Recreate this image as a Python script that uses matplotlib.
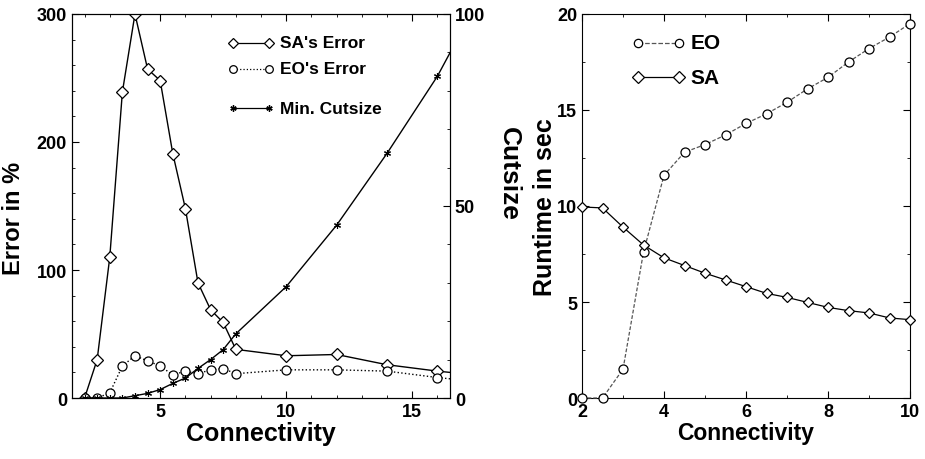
import matplotlib
matplotlib.use('Agg')
import matplotlib.pyplot as plt
from matplotlib.ticker import MultipleLocator

plt.rcParams['font.family'] = ['Liberation Sans Narrow', 'Liberation Sans', 'DejaVu Sans']
plt.rcParams['font.weight'] = 'bold'

# left panel: error and cutsize vs connectivity
conn = [2, 2.5, 3, 3.5, 4, 4.5, 5, 5.5, 6, 6.5, 7, 7.5, 8, 10, 12, 14, 16, 17]
sa_err = [0, 30, 110, 239, 300, 257, 248, 191, 148, 90, 69, 59, 38, 33, 34, 26, 21, 19]
eo_err = [0, 0, 4, 25, 33, 29, 25, 18, 21, 19, 22, 23, 19, 22, 22, 21, 16, 14]
cutsize = [0, 0, 0, 0, 0.6, 1.2, 2.2, 3.8, 5.2, 7.7, 10, 12.6, 16.7, 29, 45, 63.7, 83.8, 96]

# right panel: runtime vs connectivity
conn_rt = [2, 2.5, 3, 3.5, 4, 4.5, 5, 5.5, 6, 6.5, 7, 7.5, 8, 8.5, 9, 9.5, 10]
eo_rt = [0, 0, 1.5, 7.6, 11.6, 12.8, 13.2, 13.7, 14.3, 14.8, 15.4, 16.1, 16.7, 17.5, 18.2, 18.8, 19.5]
sa_rt = [9.95, 9.9, 8.9, 7.97, 7.3, 6.9, 6.5, 6.15, 5.8, 5.45, 5.24, 4.98, 4.72, 4.55, 4.43, 4.17, 4.08]

fig = plt.figure(figsize=(9.25, 4.6), dpi=100)
ax1 = fig.add_axes([0.0778, 0.1326, 0.4087, 0.8348])
ax2 = ax1.twinx()
ax3 = fig.add_axes([0.6292, 0.1326, 0.3546, 0.8348])

mk = dict(markerfacecolor='white', markeredgecolor='black', markeredgewidth=0.9)

ax1.plot(conn, sa_err, '-', color='black', lw=1.0, marker='D', ms=6, **mk)
ax1.plot(conn, eo_err, ':', color='black', lw=1.0, marker='o', ms=6.5, **mk)
ax2.plot(conn, cutsize, '-', color='black', lw=1.0, marker=(6, 2, 0), ms=5, markeredgewidth=0.8)

ax1.set_xlim(1.5, 16.5)
ax1.set_ylim(0, 300)
ax2.set_ylim(0, 100)
ax1.xaxis.set_major_locator(MultipleLocator(5))
ax1.xaxis.set_minor_locator(MultipleLocator(1))
ax1.yaxis.set_major_locator(MultipleLocator(100))
ax1.yaxis.set_minor_locator(MultipleLocator(20))
ax2.yaxis.set_major_locator(MultipleLocator(50))
ax2.yaxis.set_minor_locator(MultipleLocator(10))

ax1.set_xlabel('Connectivity', fontsize=18, fontweight='bold', labelpad=1)
ax1.set_ylabel('Error in %', fontsize=17, fontweight='bold')
ax1.yaxis.set_label_coords(-0.125, 0.47)
ax2.set_ylabel('Cutsize', fontsize=19, fontweight='bold', rotation=270, va='center')
ax2.yaxis.set_label_coords(1.155, 0.585)

# legend drawn by hand, to keep the uneven spacing
lx = [0.425, 0.52]
for yy, style, m, lab in [(0.925, '-', 'D', "SA's Error"), (0.857, ':', 'o', "EO's Error")]:
    ax1.plot(lx, [yy, yy], style, color='black', lw=0.9, marker=m, ms=5.5,
             transform=ax1.transAxes, **mk)
    ax1.text(0.55, yy, lab, transform=ax1.transAxes, fontsize=12.5, fontweight='bold', va='center')
ax1.plot(lx, [0.755, 0.755], '-', color='black', lw=0.9, marker=(6, 2, 0), ms=4.5,
         transform=ax1.transAxes)
ax1.text(0.55, 0.755, 'Min. Cutsize', transform=ax1.transAxes, fontsize=12.5,
         fontweight='bold', va='center')

ax3.plot(conn_rt, eo_rt, '--', color='#555555', lw=0.9, dashes=(3, 1.5), marker='o', ms=6.5,
         clip_on=False, zorder=3, **mk)
ax3.plot(conn_rt, sa_rt, '-', color='black', lw=0.9, marker='D', ms=5.5, clip_on=False,
         zorder=3, **mk)
ax3.set_xlim(2, 10)
ax3.set_ylim(0, 20)
ax3.xaxis.set_major_locator(MultipleLocator(2))
ax3.xaxis.set_minor_locator(MultipleLocator(1))
ax3.yaxis.set_major_locator(MultipleLocator(5))
ax3.yaxis.set_minor_locator(MultipleLocator(2.5))
ax3.set_xlabel('Connectivity', fontsize=16.5, fontweight='bold', labelpad=1)
ax3.set_ylabel('Runtime in sec', fontsize=18, fontweight='bold')
ax3.yaxis.set_label_coords(-0.075, 0.5)

for yy, style, m, lab, c in [(0.925, '--', 'o', 'EO', '#555555'), (0.835, '-', 'D', 'SA', 'black')]:
    ax3.plot([0.17, 0.295], [yy, yy], style, color=c, lw=0.9, marker=m, ms=6,
             transform=ax3.transAxes, **mk)
    ax3.text(0.33, yy, lab, transform=ax3.transAxes, fontsize=15, fontweight='bold', va='center')

for ax in (ax1, ax3):
    ax.tick_params(which='both', direction='in', top=True, right=(ax is ax3), labelsize=13)
    ax.tick_params(which='major', length=5)
    ax.tick_params(which='minor', length=2.5)
    for lab in ax.get_xticklabels() + ax.get_yticklabels():
        lab.set_fontweight('bold')
ax2.tick_params(which='both', direction='in', labelsize=13)
ax2.tick_params(which='major', length=5)
ax2.tick_params(which='minor', length=2.5)
for lab in ax2.get_yticklabels():
    lab.set_fontweight('bold')

fig.savefig('out.png', dpi=100)
